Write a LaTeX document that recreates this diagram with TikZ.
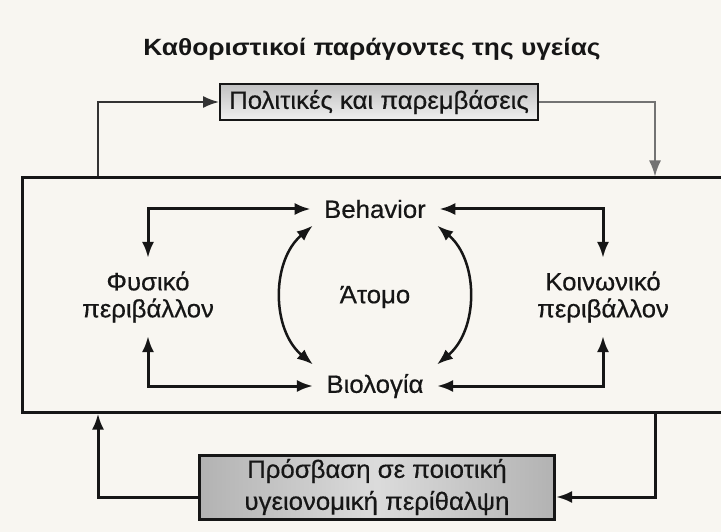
\documentclass[tikz,border=0pt]{standalone}
\usepackage{fontspec}
\setmainfont{Liberation Sans}[FakeStretch=1.03,FakeBold=0.5]
\newfontfamily\titlefont{Liberation Sans}[FakeStretch=1.12]
\usetikzlibrary{arrows.meta,positioning}
\definecolor{paper}{HTML}{F8F6F1}
\definecolor{ink}{HTML}{161616}
\tikzset{every node/.style={align=center, text=ink}, >={Latex[length=16pt,width=12pt]},
  font=\fontsize{25}{27}\selectfont}

\begin{document}
\begin{tikzpicture}[x=1pt,y=-1pt,line width=3pt,draw=ink]
            \useasboundingbox[fill=paper] (0,0) rectangle (721,532);
            \node [font=\titlefont\bfseries\fontsize{23.5}{26}\selectfont] (title) at (372,49) {Καθοριστικοί παράγοντες της υγείας};
            \node [draw,line width=2pt,top color=black!24,bottom color=black!6,minimum width=318pt,minimum height=36pt,inner sep=0pt] (pol) at (379,102) {Πολιτικές και παρεμβάσεις};
            \node [draw,line width=3pt,minimum width=712pt,minimum height=234pt] (frame) at (378,295) {};
            \node [draw,line width=3pt,left color=black!30,right color=black!30,middle color=black!14,minimum width=355pt,minimum height=64pt,inner sep=0pt,font=\fontsize{25}{32}\selectfont] (acc) at (377,487) {Πρόσβαση σε ποιοτική\\υγειονομική περίθαλψη};

            \node [inner sep=12pt] (atom) at (375,297) {Άτομο};
            \node [inner sep=12pt,on grid] (beh) [above=88pt of atom] {Behavior};
            \node [inner sep=12pt,on grid] (bio) [below=89pt of atom] {Βιολογία};
            \node [inner sep=12pt,on grid] (phys) [left=227pt of atom] {Φυσικό\\περιβάλλον};
            \node [inner sep=12pt,on grid] (soc) [right=228pt of atom] {Κοινωνικό\\περιβάλλον};

            \coordinate (tl) at (98,102);
            \coordinate (tr) at (655,102);
            \coordinate (bl) at (98,497);
            \coordinate (br) at (655,497);

            \draw[<->] (beh.west) -| (phys.north);
            \draw[<->] (bio.west) -| (phys.south);
            \draw[<->] (beh.east) -| (soc.north);
            \draw[<->] (bio.east) -| (soc.south);
            \draw[<->,line width=2.5pt] ([shift={(2,-6)}]beh.south west) to [bend right=50] ([shift={(0,4)}]bio.north west);
            \draw[<->,line width=2.5pt] ([shift={(-2,-6)}]beh.south east) to [bend left=50] ([shift={(0,4)}]bio.north east);

            \draw[->,line width=1.8pt,draw=black!80] (frame.north -| tl) |- (pol.west);
            \draw[->,line width=1.8pt,draw=black!55] (pol.east) -| (frame.north -| tr);
            \draw[->] (frame.south -| br) |- (acc.east |- br);
            \draw[->] (acc.west |- bl) -| (frame.south -| bl);
\end{tikzpicture}
\end{document}
